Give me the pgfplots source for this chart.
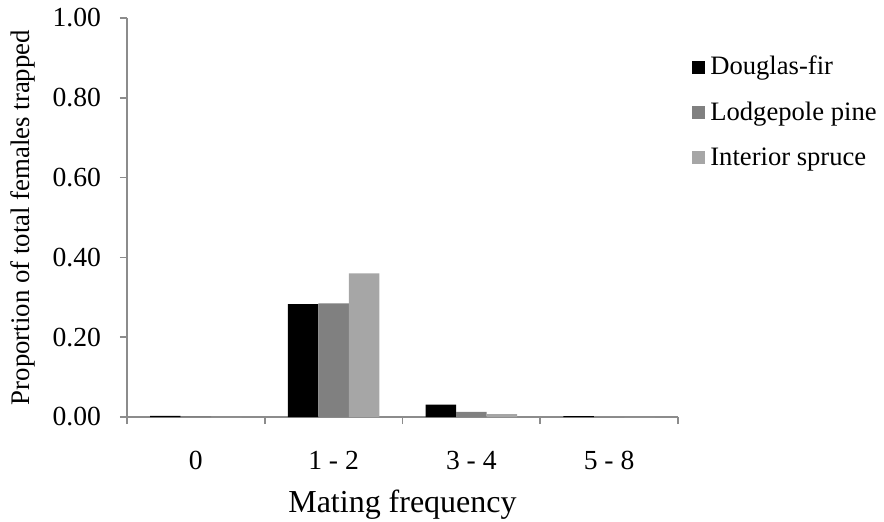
\documentclass[border=0pt]{standalone}
\usepackage{fontspec}
\setmainfont{Liberation Serif}
\usepackage{pgfplots}
\pgfplotsset{compat=1.18}
\definecolor{axisgray}{RGB}{140,140,140}
\definecolor{lpgray}{RGB}{128,128,128}
\definecolor{isgray}{RGB}{166,166,166}

\begin{document}
\begin{tikzpicture}
\begin{axis}[
    at={(0,0)}, anchor=south west,
    scale only axis,
    width=275.5pt, height=199.5pt,
    ybar=0pt,
    bar width=15.25pt,
    xmin=-0.5, xmax=3.5,
    ymin=0, ymax=1,
    xtick={0,1,2,3},
    xticklabels={0,1 - 2,3 - 4,5 - 8},
    minor xtick={-0.5,0.5,1.5,2.5,3.5},
    ytick={0,0.2,0.4,0.6,0.8,1},
    /pgf/number format/fixed,
    /pgf/number format/fixed zerofill,
    /pgf/number format/precision=2,
    /pgf/number format/assume math mode=true,
    axis x line=bottom, axis y line=left,
    axis line style={axisgray, line width=0.8pt, -},
    tick align=outside,
    major x tick style={draw=none},
    minor tick length=3.5pt,
    major tick length=3.5pt,
    every tick/.style={axisgray, line width=0.8pt},
    tick label style={font=\fontsize{13.8}{16}\selectfont},
    xticklabel style={anchor=base, yshift=-22.5pt},
    yticklabel style={anchor=east, xshift=-6pt},
    xlabel={Mating frequency},
    xlabel style={font=\fontsize{16}{19}\selectfont, at={(axis description cs:0.5,0)}, anchor=base, yshift=-47.5pt},
    ylabel={Proportion of total females trapped},
    ylabel style={font=\fontsize{13.4}{16}\selectfont, at={(axis description cs:0,0.5)}, anchor=center, yshift=52pt},
    legend style={draw=none, fill=none, at={(rel axis cs:1,0.764)}, anchor=west, xshift=4pt,
        font=\fontsize{13.3}{16}\selectfont, row sep=8pt, nodes={inner xsep=2.5pt}},
    legend cell align=left,
    legend image code/.code={\fill[#1] (0pt,-3.25pt) rectangle (6.5pt,3.25pt);},
]
\addplot[fill=black, draw=none] coordinates {(0,0.003) (1,0.283) (2,0.031) (3,0.002)};
\addplot[fill=lpgray, draw=none] coordinates {(0,0.002) (1,0.285) (2,0.013) (3,0.0)};
\addplot[fill=isgray, draw=none] coordinates {(0,0.0) (1,0.360) (2,0.007) (3,0.0)};
\legend{Douglas-fir, Lodgepole pine, Interior spruce}
\end{axis}
\pgfresetboundingbox
\path (-63.5pt,-52pt) rectangle (378.5pt,208.5pt);
\end{tikzpicture}
\end{document}
